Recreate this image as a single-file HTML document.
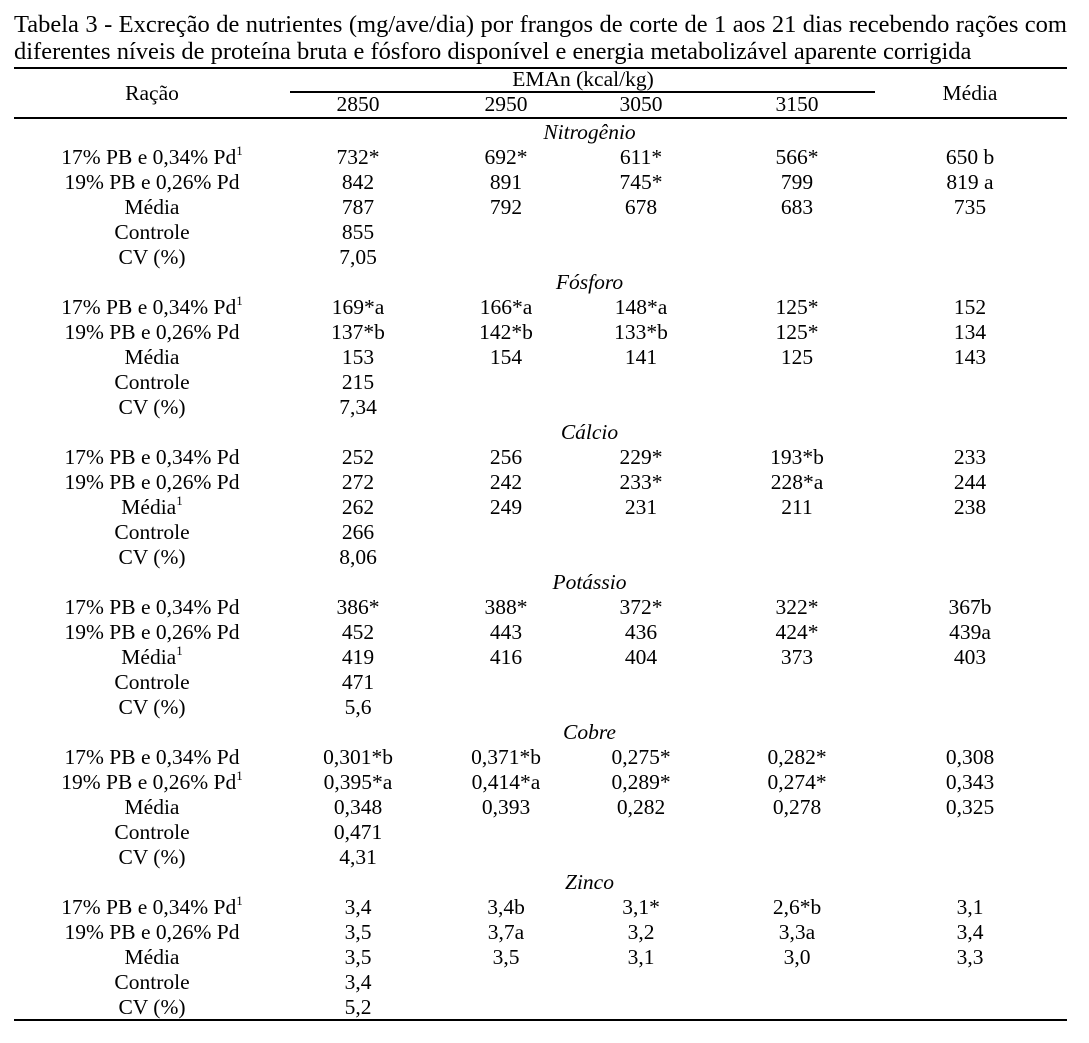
<!DOCTYPE html>
<html><head><meta charset="utf-8"><style>
body{margin:0;background:#fff;width:1089px;height:1043px;position:relative;overflow:hidden;font-family:"Liberation Serif",serif;font-size:21.5px;color:#000}
.t{position:absolute;left:14px;width:1053px;white-space:nowrap;line-height:26px;font-size:24.5px}
.j{text-align:justify;text-align-last:justify}
.h{position:absolute;height:2px;background:#000}
.r{position:absolute;left:0;width:1089px;height:25px;line-height:25px}
.r span{position:absolute;width:220px;text-align:center;white-space:nowrap}
.a{left:42px}.b{left:248px}.c{left:396px}.d{left:531px}.e{left:687px}.f{left:860px}
.s{left:0!important;width:1089px!important;text-align:center;font-style:italic;padding-left:90px;box-sizing:border-box}
sup{font-size:13px;line-height:0;vertical-align:9px}
</style></head><body>
<div class="t j" style="top:12px">Tabela 3 - Excreção de nutrientes (mg/ave/dia) por frangos de corte de 1 aos 21 dias recebendo rações com</div>
<div class="t" style="top:39px">diferentes níveis de proteína bruta e fósforo disponível e energia metabolizável aparente corrigida</div>
<div class="h" style="top:67px;left:14px;width:1053px"></div>
<div class="h" style="top:91px;left:290px;width:585px;height:1.5px"></div>
<div class="h" style="top:117px;left:14px;width:1053px"></div>
<div class="h" style="top:1019px;left:14px;width:1053px"></div>
<div class="r" style="top:67px"><span style="left:473px">EMAn (kcal/kg)</span></div>
<div class="r" style="top:81px"><span class="a">Ração</span><span class="f">Média</span></div>
<div class="r" style="top:92px"><span class="b">2850</span><span class="c">2950</span><span class="d">3050</span><span class="e">3150</span></div>

<div class="r" style="top:120px"><span class="s">Nitrogênio</span></div>
<div class="r" style="top:145px"><span class="a">17% PB e 0,34% Pd<sup>1</sup></span><span class="b">732*</span><span class="c">692*</span><span class="d">611*</span><span class="e">566*</span><span class="f">650 b</span></div>
<div class="r" style="top:170px"><span class="a">19% PB e 0,26% Pd</span><span class="b">842</span><span class="c">891</span><span class="d">745*</span><span class="e">799</span><span class="f">819 a</span></div>
<div class="r" style="top:195px"><span class="a">Média</span><span class="b">787</span><span class="c">792</span><span class="d">678</span><span class="e">683</span><span class="f">735</span></div>
<div class="r" style="top:220px"><span class="a">Controle</span><span class="b">855</span></div>
<div class="r" style="top:245px"><span class="a">CV (%)</span><span class="b">7,05</span></div>

<div class="r" style="top:270px"><span class="s">Fósforo</span></div>
<div class="r" style="top:295px"><span class="a">17% PB e 0,34% Pd<sup>1</sup></span><span class="b">169*a</span><span class="c">166*a</span><span class="d">148*a</span><span class="e">125*</span><span class="f">152</span></div>
<div class="r" style="top:320px"><span class="a">19% PB e 0,26% Pd</span><span class="b">137*b</span><span class="c">142*b</span><span class="d">133*b</span><span class="e">125*</span><span class="f">134</span></div>
<div class="r" style="top:345px"><span class="a">Média</span><span class="b">153</span><span class="c">154</span><span class="d">141</span><span class="e">125</span><span class="f">143</span></div>
<div class="r" style="top:370px"><span class="a">Controle</span><span class="b">215</span></div>
<div class="r" style="top:395px"><span class="a">CV (%)</span><span class="b">7,34</span></div>

<div class="r" style="top:420px"><span class="s">Cálcio</span></div>
<div class="r" style="top:445px"><span class="a">17% PB e 0,34% Pd</span><span class="b">252</span><span class="c">256</span><span class="d">229*</span><span class="e">193*b</span><span class="f">233</span></div>
<div class="r" style="top:470px"><span class="a">19% PB e 0,26% Pd</span><span class="b">272</span><span class="c">242</span><span class="d">233*</span><span class="e">228*a</span><span class="f">244</span></div>
<div class="r" style="top:495px"><span class="a">Média<sup>1</sup></span><span class="b">262</span><span class="c">249</span><span class="d">231</span><span class="e">211</span><span class="f">238</span></div>
<div class="r" style="top:520px"><span class="a">Controle</span><span class="b">266</span></div>
<div class="r" style="top:545px"><span class="a">CV (%)</span><span class="b">8,06</span></div>

<div class="r" style="top:570px"><span class="s">Potássio</span></div>
<div class="r" style="top:595px"><span class="a">17% PB e 0,34% Pd</span><span class="b">386*</span><span class="c">388*</span><span class="d">372*</span><span class="e">322*</span><span class="f">367b</span></div>
<div class="r" style="top:620px"><span class="a">19% PB e 0,26% Pd</span><span class="b">452</span><span class="c">443</span><span class="d">436</span><span class="e">424*</span><span class="f">439a</span></div>
<div class="r" style="top:645px"><span class="a">Média<sup>1</sup></span><span class="b">419</span><span class="c">416</span><span class="d">404</span><span class="e">373</span><span class="f">403</span></div>
<div class="r" style="top:670px"><span class="a">Controle</span><span class="b">471</span></div>
<div class="r" style="top:695px"><span class="a">CV (%)</span><span class="b">5,6</span></div>

<div class="r" style="top:720px"><span class="s">Cobre</span></div>
<div class="r" style="top:745px"><span class="a">17% PB e 0,34% Pd</span><span class="b">0,301*b</span><span class="c">0,371*b</span><span class="d">0,275*</span><span class="e">0,282*</span><span class="f">0,308</span></div>
<div class="r" style="top:770px"><span class="a">19% PB e 0,26% Pd<sup>1</sup></span><span class="b">0,395*a</span><span class="c">0,414*a</span><span class="d">0,289*</span><span class="e">0,274*</span><span class="f">0,343</span></div>
<div class="r" style="top:795px"><span class="a">Média</span><span class="b">0,348</span><span class="c">0,393</span><span class="d">0,282</span><span class="e">0,278</span><span class="f">0,325</span></div>
<div class="r" style="top:820px"><span class="a">Controle</span><span class="b">0,471</span></div>
<div class="r" style="top:845px"><span class="a">CV (%)</span><span class="b">4,31</span></div>

<div class="r" style="top:870px"><span class="s">Zinco</span></div>
<div class="r" style="top:895px"><span class="a">17% PB e 0,34% Pd<sup>1</sup></span><span class="b">3,4</span><span class="c">3,4b</span><span class="d">3,1*</span><span class="e">2,6*b</span><span class="f">3,1</span></div>
<div class="r" style="top:920px"><span class="a">19% PB e 0,26% Pd</span><span class="b">3,5</span><span class="c">3,7a</span><span class="d">3,2</span><span class="e">3,3a</span><span class="f">3,4</span></div>
<div class="r" style="top:945px"><span class="a">Média</span><span class="b">3,5</span><span class="c">3,5</span><span class="d">3,1</span><span class="e">3,0</span><span class="f">3,3</span></div>
<div class="r" style="top:970px"><span class="a">Controle</span><span class="b">3,4</span></div>
<div class="r" style="top:995px"><span class="a">CV (%)</span><span class="b">5,2</span></div>
</body></html>
